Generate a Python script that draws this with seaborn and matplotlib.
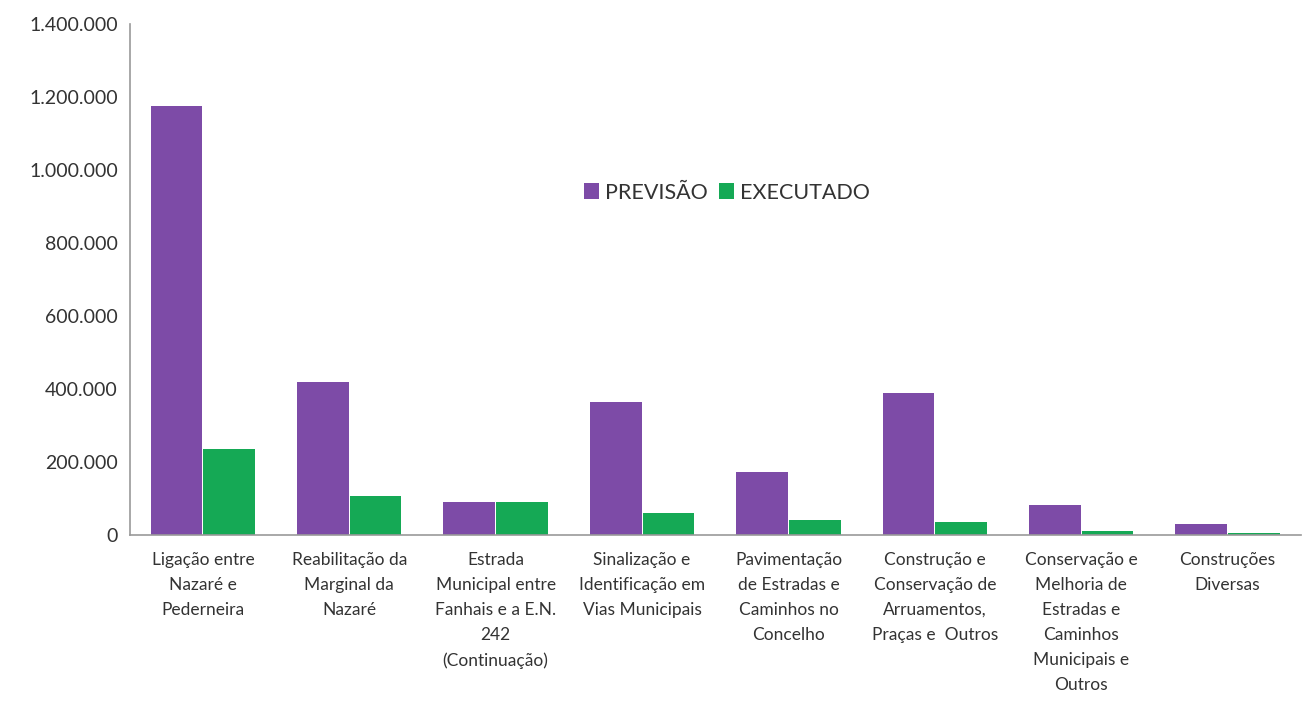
import pandas as pd
import numpy as np
import matplotlib.pyplot as plt
import seaborn as sns
from matplotlib.ticker import FuncFormatter, FixedLocator

# dados
categorias = [
    'Ligação entre\nNazaré e\nPederneira',
    'Reabilitação da\nMarginal da\nNazaré',
    'Estrada\nMunicipal entre\nFanhais e a E.N.\n242\n(Continuação)',
    'Sinalização e\nIdentificação em\nVias Municipais',
    'Pavimentação\nde Estradas e\nCaminhos no\nConcelho',
    'Construção e\nConservação de\nArruamentos,\nPraças e  Outros',
    'Conservação e\nMelhoria de\nEstradas e\nCaminhos\nMunicipais e\nOutros',
    'Construções\nDiversas',
]
previsao = [1175000, 419000, 90000, 364000, 173000, 389000, 82000, 30000]
executado = [236000, 107000, 90000, 60000, 40000, 36000, 10000, 6000]

df = pd.DataFrame({
    'cat': categorias * 2,
    'valor': previsao + executado,
    'serie': ['PREVISÃO'] * len(categorias) + ['EXECUTADO'] * len(categorias),
})

sns.set_style('white')
plt.rcParams['font.family'] = ['Lato', 'DejaVu Sans']

fig, ax = plt.subplots(figsize=(13.1, 7.03), dpi=100)
fig.subplots_adjust(left=0.099, right=0.993, top=0.966, bottom=0.239)

sns.barplot(data=df, x='cat', y='valor', hue='serie',
            palette={'PREVISÃO': '#7d4ba7', 'EXECUTADO': '#15a955'},
            width=0.72, gap=0.02, saturation=1, linewidth=0, ax=ax)

ax.set_ylim(0, 1400000)
ax.set_xlim(-0.5, len(categorias) - 0.5)
ax.yaxis.set_major_locator(FixedLocator(np.arange(0, 1400001, 200000)))
ax.yaxis.set_major_formatter(FuncFormatter(lambda v, p: f'{int(v):,}'.replace(',', '.')))
ax.set_xlabel('')
ax.set_ylabel('')

# ticks entre categorias (estilo Excel)
ax.tick_params(axis='x', which='major', length=0, labelsize=12.5, pad=12, colors='#333333')
ax.xaxis.set_minor_locator(FixedLocator(np.arange(-0.5, len(categorias), 1)))
ax.tick_params(axis='x', which='minor', length=5, color='#999999')
ax.tick_params(axis='y', length=5, color='#999999', labelsize=14, colors='#333333')
for lbl in ax.get_xticklabels():
    lbl.set_linespacing(1.7)

for s in ['top', 'right']:
    ax.spines[s].set_visible(False)
for s in ['left', 'bottom']:
    ax.spines[s].set_color('#999999')
    ax.spines[s].set_linewidth(1.2)

leg = ax.legend(loc='center', bbox_to_anchor=(0.51, 0.67), ncol=2, frameon=False,
                fontsize=15.5, handlelength=0.7, handleheight=0.7,
                handletextpad=0.3, columnspacing=0.5)
for t in leg.get_texts():
    t.set_color('#333333')

plt.savefig('out.png', dpi=100)
